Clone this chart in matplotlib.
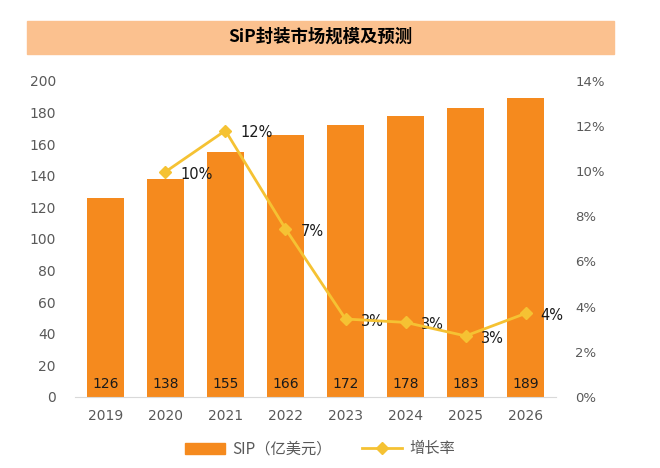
import matplotlib
matplotlib.use("Agg")
import matplotlib.pyplot as plt
import numpy as np
from matplotlib.patches import Rectangle
from matplotlib.lines import Line2D
from matplotlib.patches import Patch

plt.rcParams['font.family'] = ['DejaVu Sans', 'Noto Sans CJK SC']

# data
years = ['2019', '2020', '2021', '2022', '2023', '2024', '2025', '2026']
sip = [126, 138, 155, 166, 172, 178, 183, 189]
growth = [np.nan, 0.0997, 0.118, 0.0745, 0.0345, 0.033, 0.027, 0.037]

bar_color = '#F58A1E'
line_color = '#F5C233'
gray = '#595959'

fig = plt.figure(figsize=(6.6, 4.68), dpi=100)
ax = fig.add_axes([0.114, 0.152, 0.728, 0.675])

x = np.arange(len(years))
ax.bar(x, sip, width=0.62, color=bar_color, zorder=2)
for xi, v in zip(x, sip):
    ax.text(xi, 8, str(v), ha='center', va='center', fontsize=10, color='#1a1a1a', zorder=5)

ax.set_ylim(0, 200)
ax.set_yticks(range(0, 201, 20))
ax.set_xlim(-0.5, len(years) - 0.5)
ax.set_xticks(x)
ax.set_xticklabels(years)
ax.tick_params(axis='both', length=0, labelsize=10, labelcolor=gray)
ax.tick_params(axis='x', pad=9)
ax.tick_params(axis='y', pad=14)
for s in ['top', 'right', 'left']:
    ax.spines[s].set_visible(False)
ax.spines['bottom'].set_color('#d9d9d9')

ax2 = ax.twinx()
ax2.plot(x, growth, color=line_color, lw=2, marker='D', markersize=6, zorder=4)
for xi, g in zip(x, growth):
    if not np.isnan(g):
        ax2.text(xi + 0.25, g - 0.001, '{:.0%}'.format(g), ha='left', va='center', fontsize=10.5, color='#1a1a1a')
ax2.set_ylim(0, 0.14)
ax2.set_yticks(np.arange(0, 0.141, 0.02))
ax2.set_yticklabels(['{:.0f}%'.format(v * 100) for v in np.arange(0, 0.141, 0.02)])
ax2.tick_params(axis='y', length=0, labelsize=9.5, labelcolor=gray, pad=14)
for s in ['top', 'right', 'left', 'bottom']:
    ax2.spines[s].set_visible(False)

# title band
fig.patches.append(Rectangle((27 / 660, 1 - 54 / 468), 587 / 660, 33 / 468,
                             transform=fig.transFigure, color='#FBC18F', zorder=0))
fig.text(320 / 660, 1 - 37 / 468, 'SiP封装市场规模及预测', ha='center', va='center',
         fontsize=12.5, fontweight='bold', family=['Noto Sans CJK SC'])

handles = [Patch(color=bar_color),
           Line2D([0], [0], color=line_color, lw=2, marker='D', markersize=6)]
fig.legend(handles, ['SIP（亿美元）', '增长率'], loc='center', bbox_to_anchor=(0.485, 1 - 449 / 468),
           ncol=2, frameon=False, labelcolor=gray, handlelength=2.6, columnspacing=2.0,
           handletextpad=0.5, prop={'family': ['Noto Sans CJK SC', 'DejaVu Sans'], 'size': 11})

fig.savefig('out.png', dpi=100)
